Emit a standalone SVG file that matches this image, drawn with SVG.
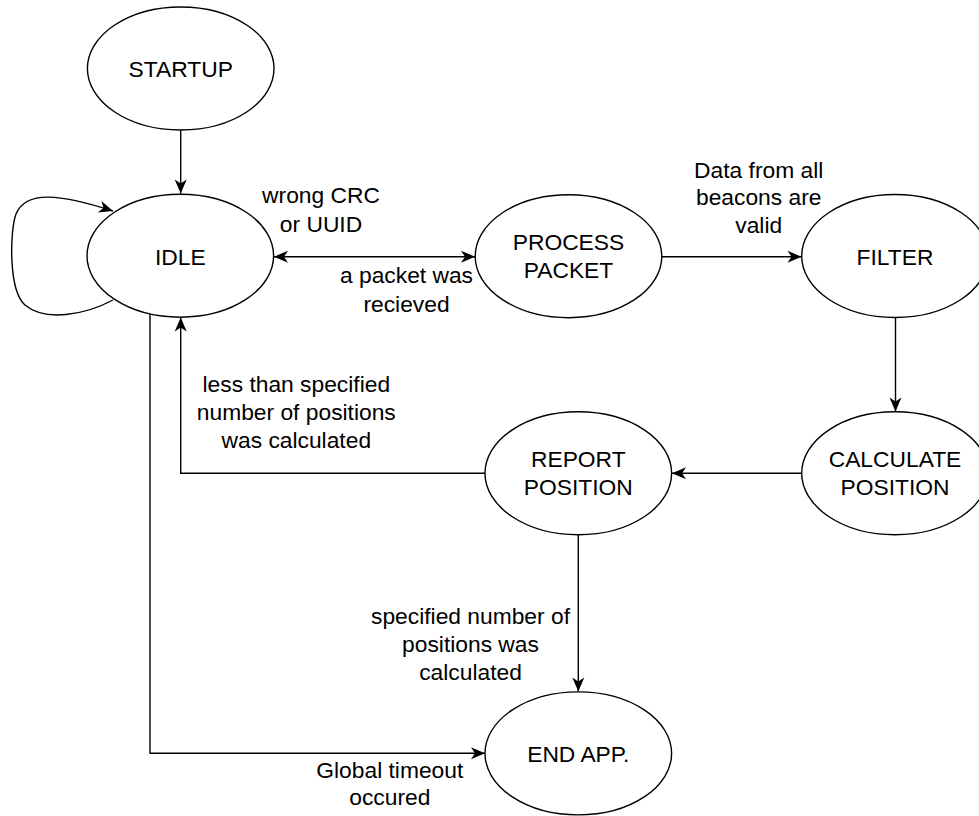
<svg xmlns="http://www.w3.org/2000/svg" width="979" height="816" viewBox="0 0 979 816">
<defs>
<style>
.n ellipse{fill:#fff;stroke:#000;stroke-width:1.4}
text{font-family:"Liberation Sans",Arial,sans-serif;font-size:22.8px;fill:#000;text-anchor:middle}
.e path{fill:none;stroke:#000;stroke-width:1.4}
</style>
<marker id="ar" markerUnits="userSpaceOnUse" markerWidth="16" markerHeight="14" viewBox="-1 -7 16 14" refX="14" refY="0" orient="auto-start-reverse">
<path d="M0,-6 L14,0 L0,6 L4,0 Z" fill="#000"/>
</marker>
</defs>
<rect width="979" height="816" fill="#fff"/>
<g class="e" id="connectors">
<path d="M180.7,130 V193.5" marker-end="url(#ar)"/>
<path d="M274,256.7 H475" marker-start="url(#ar)" marker-end="url(#ar)"/>
<path d="M662,256.7 H801.5" marker-end="url(#ar)"/>
<path d="M895.5,318 V411.5" marker-end="url(#ar)"/>
<path d="M801.7,473.3 H672" marker-end="url(#ar)"/>
<path d="M485,473.3 H180.7 V317.5" marker-end="url(#ar)"/>
<path d="M578.3,535 V691.5" marker-end="url(#ar)"/>
<path d="M150,313.7 V753.3 H485" marker-end="url(#ar)"/>
<path d="M113,300 C85,315 45,322 25,305 C8,290 10,230 16,214 C26,190 60,194 113,211" marker-end="url(#ar)"/>
</g>
<g class="n" id="startup"><ellipse cx="180.7" cy="68.5" rx="93.3" ry="61.5"/><text x="180.7" y="76.7">STARTUP</text></g>
<g class="n" id="idle"><ellipse cx="180.3" cy="255.7" rx="93.3" ry="61.5"/><text x="180.3" y="264.7">IDLE</text></g>
<g class="n" id="process"><ellipse cx="568.5" cy="256.2" rx="93.3" ry="61.5"/><text x="568.5" y="250">PROCESS</text><text x="568.5" y="278.3">PACKET</text></g>
<g class="n" id="filter"><ellipse cx="895" cy="256" rx="93.3" ry="61.5"/><text x="895" y="264.7">FILTER</text></g>
<g class="n" id="calculate"><ellipse cx="895" cy="473.3" rx="93.3" ry="61.5"/><text x="895" y="467">CALCULATE</text><text x="895" y="495.3">POSITION</text></g>
<g class="n" id="report"><ellipse cx="578.3" cy="473.3" rx="93.3" ry="61.5"/><text x="578.3" y="467">REPORT</text><text x="578.3" y="495.3">POSITION</text></g>
<g class="n" id="end"><ellipse cx="578.3" cy="753.4" rx="93.3" ry="61.5"/><text x="578.3" y="761.7">END APP.</text></g>
<g id="labels">
<text x="321" y="203.3">wrong CRC</text><text x="321" y="231.7">or UUID</text>
<text x="406.5" y="283.3">a packet was</text><text x="406.5" y="311.7">recieved</text>
<text x="758.7" y="177.7">Data from all</text><text x="758.7" y="205.2">beacons are</text><text x="758.7" y="232.7">valid</text>
<text x="296.3" y="391.7">less than specified</text><text x="296.3" y="419.8">number of positions</text><text x="296.3" y="447.7">was calculated</text>
<text x="470.5" y="624">specified number of</text><text x="470.5" y="652.2">positions was</text><text x="470.5" y="680">calculated</text>
<text x="389.8" y="778.3">Global timeout</text><text x="389.8" y="805">occured</text>
</g>
</svg>
